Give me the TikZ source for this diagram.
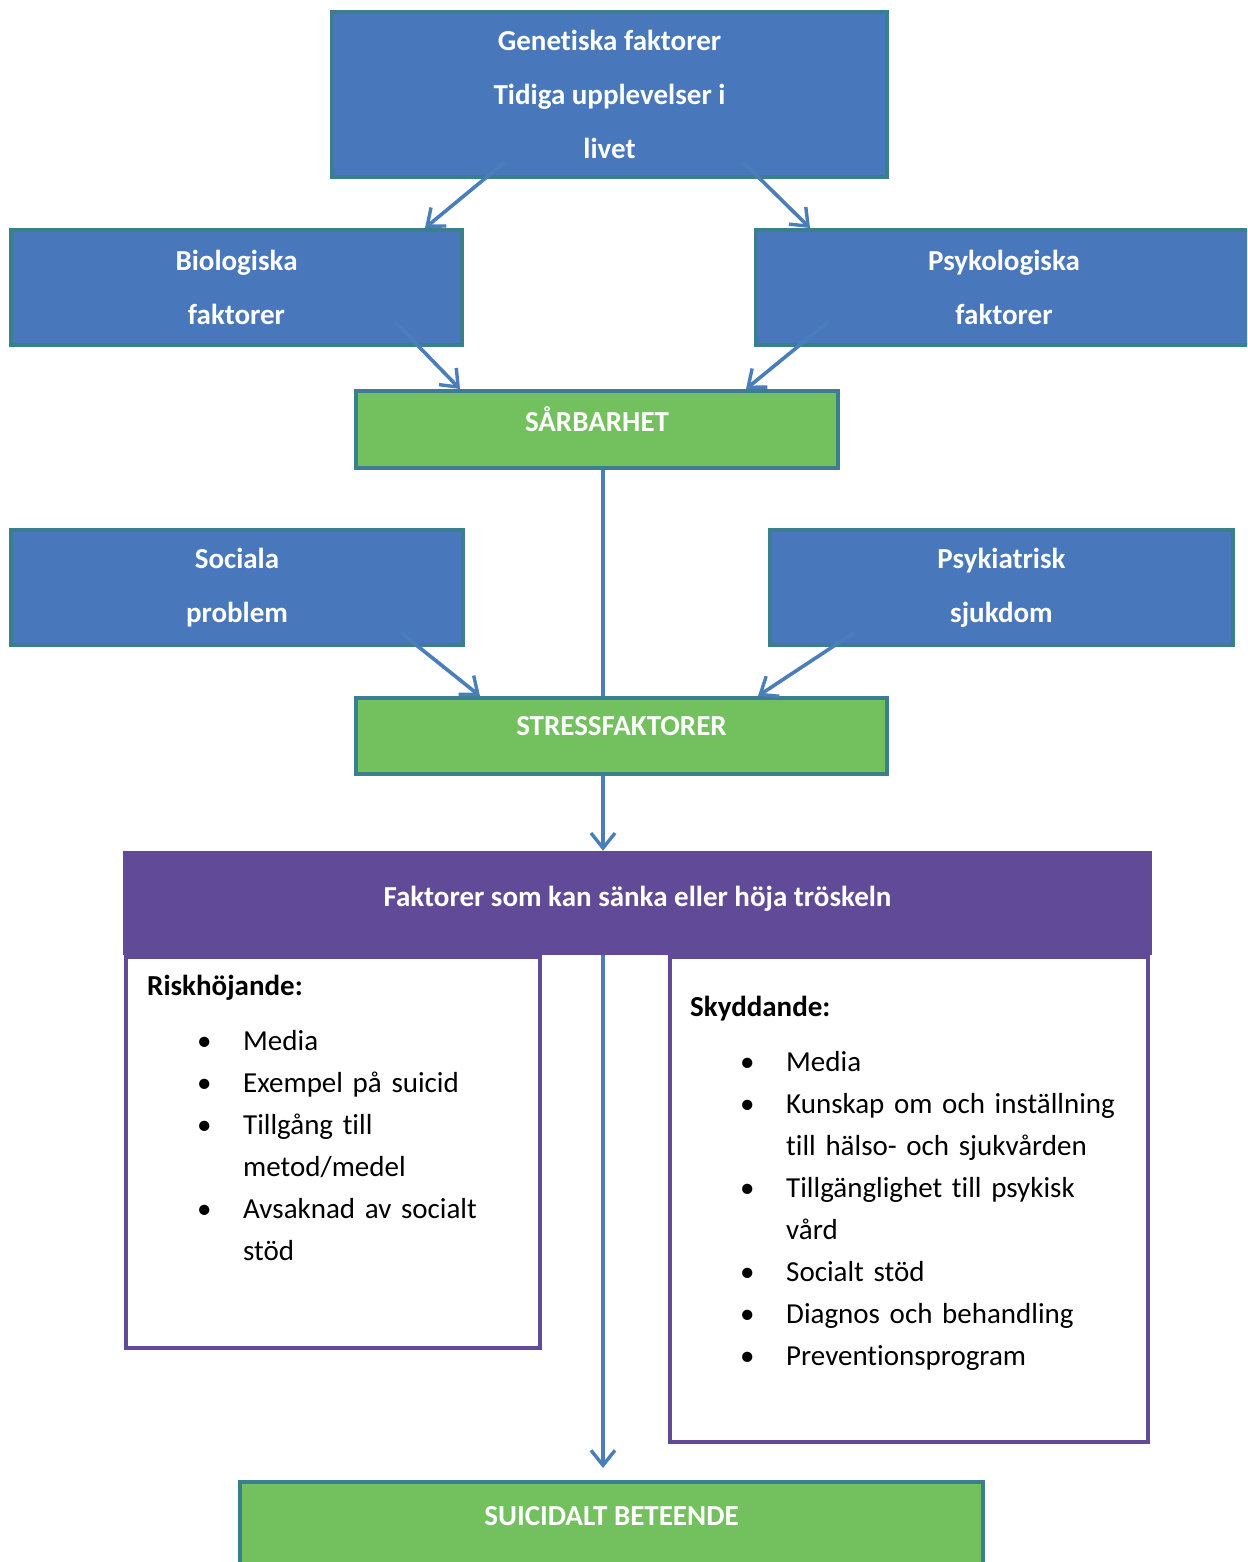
\documentclass[tikz,border=0pt]{standalone}
\usepackage{fontspec}
\setmainfont[Ligatures=NoCommon]{Carlito}
\usetikzlibrary{arrows.meta,positioning}
\definecolor{boxBlue}{HTML}{4877BC}
\definecolor{boxGreen}{HTML}{73C05F}
\definecolor{boxEdge}{HTML}{3B7F8F}
\definecolor{threshPurple}{HTML}{614B98}
\definecolor{flowBlue}{HTML}{4A7EBB}
\newcommand{\bul}{\hspace*{50pt}\makebox[46pt][l]{\textbullet}}
\newcommand{\cont}{\hspace*{96pt}}

\begin{document}
\begin{tikzpicture}[
    x=1pt, y=-1pt,
    % one unit = one pixel of the page, y running down
    card/.style={draw=boxEdge, line width=4pt, align=center, inner sep=0pt, text=white,
                 font=\bfseries\fontsize{29}{54}\selectfont},
    blu/.style={card, fill=boxBlue},
    grn/.style={card, fill=boxGreen, text depth=20pt},
    flow/.style={draw=flowBlue, line width=3.6pt,
                 -{Straight Barb[length=15pt,width=24pt,line width=3.4pt]}},
    spine/.style={draw=flowBlue, line width=3.6pt},
    listbox/.style={draw=threshPurple, line width=4pt, fill=white},
    listtext/.style={anchor=base west, text width=450pt, align=left, inner sep=0pt,
                     font=\fontsize{29}{42}\selectfont},
]
\useasboundingbox (0,0) rectangle (1247,1562);
\clip (0,0) rectangle (1247,1562);

%================= vulnerability : causes =================%
\node[blu, minimum width=555pt, minimum height=165pt] (gen) at (609.5,94.5)
     {Genetiska faktorer\\Tidiga upplevelser i\\livet};
\node[blu, minimum width=451pt, minimum height=115pt] (bio) at (236.5,287.5)
     {Biologiska\\faktorer};
\node[blu, minimum width=496pt, minimum height=115pt] (psy) at (1004,287.5)
     {Psykologiska\\faktorer};
\node[grn, minimum width=482pt, minimum height=77pt] (sar) at (597,429.5) {SÅRBARHET};

\draw[flow] ([shift={(-104.5,-17)}]gen.south) -- ([shift={(188.5,0)}]bio.north);
\draw[flow] ([shift={(133.5,-17)}]gen.south) -- ([shift={(56,0)}]psy.north west);
\draw[flow] ([shift={(-69,-25)}]bio.south east) -- ([shift={(106,0)}]sar.north west);
\draw[flow] ([shift={(74,-25)}]psy.south west) -- ([shift={(-94,0)}]sar.north east);

%================= stress : triggers =================%
\node[blu, minimum width=452pt, minimum height=115pt] (soc) at (237,587.5)
     {Sociala\\problem};
\node[blu, minimum width=463pt, minimum height=115pt] (pka) at (1001.5,587.5)
     {Psykiatrisk\\sjukdom};
\node[grn, minimum width=531pt, minimum height=76pt] (str) at (621.5,736) {STRESSFAKTORER};

\draw[spine] ([shift={(6,0)}]sar.south) -- ([shift={(-18.5,0)}]str.north);
\draw[flow] ([shift={(-65,-15)}]soc.south east) -- ([shift={(126,0)}]str.north west);
\draw[flow] ([shift={(87,-15)}]pka.south west) -- ([shift={(-131,0)}]str.north east);

%================= threshold factors =================%
\node[listbox, minimum width=414pt, minimum height=391pt] (risk) at (333,1152.5) {};
\node[listbox, minimum width=478pt, minimum height=485pt] (skydd) at (909,1199.5) {};
\node[fill=threshPurple, minimum width=1029pt, minimum height=104pt, inner sep=0pt,
      text=white, text depth=14pt, font=\bfseries\fontsize{29}{34}\selectfont] (thr) at (637.5,903)
     {Faktorer som kan sänka eller höja tröskeln};

\node[listtext] (risklist) at (147,995) {\textbf{Riskhöjande:}\\[13pt]
  \bul Media\\
  \bul Exempel på suicid\\
  \bul Tillgång till\\
  \cont metod/medel\\
  \bul Avsaknad av socialt\\
  \cont stöd};
\node[listtext] (skyddlist) at (690,1016) {\textbf{Skyddande:}\\[13pt]
  \bul Media\\
  \bul Kunskap om och inställning\\
  \cont till hälso- och sjukvården\\
  \bul Tillgänglighet till psykisk\\
  \cont vård\\
  \bul Socialt stöd\\
  \bul Diagnos och behandling\\
  \bul Preventionsprogram};

%================= outcome =================%
\node[grn, minimum width=743pt, minimum height=88pt] (sui) at (611.5,1526) {SUICIDALT BETEENDE};

\draw[flow] ([shift={(-18.5,0)}]str.south) -- ([shift={(-34.5,0)}]thr.north);
\draw[flow] ([shift={(-34.5,0)}]thr.south) -- ([shift={(-8.5,-12)}]sui.north);

\end{tikzpicture}
\end{document}
